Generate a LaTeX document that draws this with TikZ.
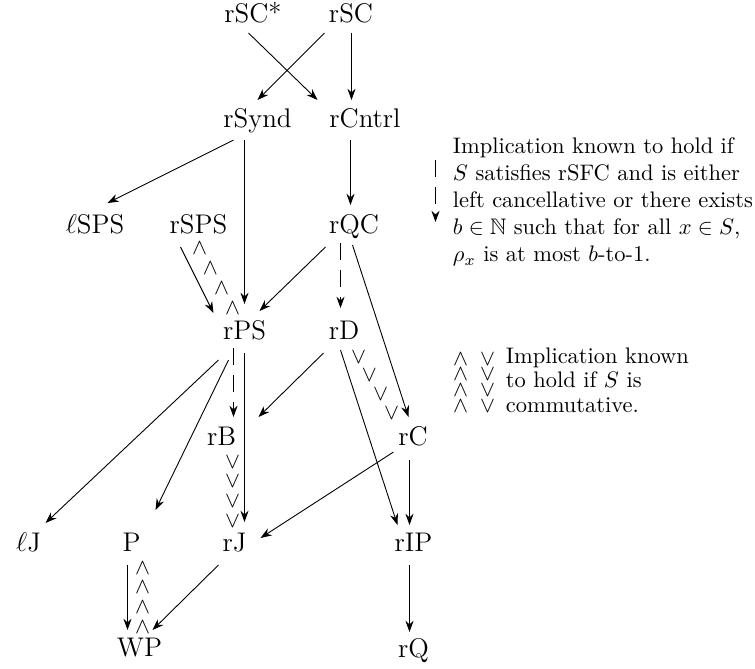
\documentclass[tikz,border=0pt]{standalone}
\usepackage{amssymb}
\usetikzlibrary{arrows.meta}
\begin{document}
\begin{tikzpicture}[x=0.445pt,y=-0.445pt,
  nd/.style={font=\large, anchor=base, inner sep=0pt},
  imp/.style={-{Stealth[length=5pt,width=3.6pt]}, line width=0.4pt},
  cond/.style={imp, dash pattern=on 7.5pt off 4.5pt},
  sym/.style={inner sep=0pt, font=\normalsize},
  legtext/.style={anchor=north west, inner sep=0pt, align=left, font=\normalsize}]
\useasboundingbox (-0.5,0) rectangle (754.5,669);
% nodes
\node[nd] (rSCs)  at (252.5,22) {rSC*};
\node[nd] (rSC)   at (350.5,22) {rSC};
\node[nd] (rSynd) at (257,127) {rSynd};
\node[nd] (rCntrl) at (364.5,127) {rCntrl};
\node[nd] (lSPS)  at (94.5,233) {$\ell$SPS};
\node[nd] (rSPS)  at (198,233) {rSPS};
\node[nd] (rQC)   at (353.5,233) {rQC};
\node[nd] (rPS)   at (244,339) {rPS};
\node[nd] (rD)    at (343.5,339) {rD};
\node[nd] (rB)    at (221,445) {rB};
\node[nd] (rC)    at (412.5,445) {rC};
\node[nd] (lJ)    at (28,551) {$\ell$J};
\node[nd] (P)     at (131,551) {P};
\node[nd] (rJ)    at (234,551) {rJ};
\node[nd] (rIP)   at (413,551) {rIP};
\node[nd] (WP)    at (139,656) {WP};
\node[nd] (rQ)    at (413,657) {rQ};
% implications
\draw[imp] ([shift={(-4.5,11)}]rSCs.base) -- ([shift={(-47.5,-27)}]rCntrl.base);
\draw[imp] ([shift={(-26.5,11)}]rSC.base) -- ([shift={(0,-27)}]rSynd.base);
\draw[imp] ([shift={(0.5,11)}]rSC.base) -- ([shift={(-13.5,-27)}]rCntrl.base);
\draw[imp] ([shift={(-24,13)}]rSynd.base) -- ([shift={(12.5,-30)}]lSPS.base);
\draw[imp] ([shift={(-13,13)}]rSynd.base) -- ([shift={(0,-35)}]rPS.base);
\draw[imp] ([shift={(-14.5,13)}]rCntrl.base) -- ([shift={(-3.5,-28)}]rQC.base);
\draw[imp] ([shift={(-18,14)}]rSPS.base) -- ([shift={(-31,-26)}]rPS.base);
\draw[imp] ([shift={(-28.5,14)}]rQC.base) -- ([shift={(15,-28)}]rPS.base);
\draw[cond] ([shift={(-13.5,10)}]rQC.base) -- ([shift={(-3.5,-31)}]rD.base);
\draw[imp] ([shift={(-1.5,12)}]rQC.base) -- ([shift={(-4.5,-28)}]rC.base);
\draw[imp] ([shift={(-20.5,14)}]rD.base) -- ([shift={(37,-28)}]rB.base);
\draw[imp] ([shift={(-3.5,11)}]rD.base) -- ([shift={(-16,-26)}]rIP.base);
\draw[cond] ([shift={(-11,9)}]rPS.base) -- ([shift={(12,-28)}]rB.base);
\draw[imp] ([shift={(0,14)}]rPS.base) -- ([shift={(10,-29)}]rJ.base);
\draw[imp] ([shift={(-26,21)}]rPS.base) -- ([shift={(17,-28)}]lJ.base);
\draw[imp] ([shift={(-16,21)}]rPS.base) -- ([shift={(24,-41)}]P.base);
\draw[imp] ([shift={(-19.5,7)}]rC.base) -- ([shift={(26,-13)}]rJ.base);
\draw[imp] ([shift={(-3.5,15)}]rC.base) -- ([shift={(-4,-26)}]rIP.base);
\draw[imp] ([shift={(-4,14)}]rIP.base) -- ([shift={(-4,-25)}]rQ.base);
\draw[imp] ([shift={(-4,14)}]P.base) -- ([shift={(-12,-26)}]WP.base);
\draw[imp] ([shift={(-16,14)}]rJ.base) -- ([shift={(13,-26)}]WP.base);
% commutative implications
\path ([shift={(-12,-31)}]rPS.base) -- ([shift={(1,15)}]rSPS.base)
  node[sym,pos=0] (ca1) {$\wedge$} node[sym,pos=0.333] (ca2) {$\wedge$}
  node[sym,pos=0.667] (ca3) {$\wedge$} node[sym,pos=1] (ca4) {$\wedge$};
\path ([shift={(14.5,18)}]rD.base) -- ([shift={(-21.5,-32)}]rC.base)
  node[sym,pos=0] (cb1) {$\vee$} node[sym,pos=0.333] (cb2) {$\vee$}
  node[sym,pos=0.667] (cb3) {$\vee$} node[sym,pos=1] (cb4) {$\vee$};
\path ([shift={(11,17)}]rB.base) -- ([shift={(-2,-30)}]rJ.base)
  node[sym,pos=0] (cc1) {$\vee$} node[sym,pos=0.333] (cc2) {$\vee$}
  node[sym,pos=0.667] (cc3) {$\vee$} node[sym,pos=1] (cc4) {$\vee$};
\path ([shift={(3,-29)}]WP.base) -- ([shift={(11,17)}]P.base)
  node[sym,pos=0] (cd1) {$\wedge$} node[sym,pos=0.333] (cd2) {$\wedge$}
  node[sym,pos=0.667] (cd3) {$\wedge$} node[sym,pos=1] (cd4) {$\wedge$};
% legend 1
\coordinate (la) at (435,160);
\coordinate (lb) at (435,222);
\draw[cond] (la) -- (lb);
\node[legtext] (leg1) at (452,137.5) {Implication known to hold if\\ $S$ satisfies rSFC and is either\\ left cancellative or there exists\\ $b\in\mathbb{N}$ such that for all $x\in S$,\\ $\rho_x$ is at most $b$-to-1.};
% legend 2
\foreach \yy [count=\i] in {359,374.5,390,406}{
  \node[sym] (lw\i) at (460,\yy) {$\wedge$};
  \node[sym] (lv\i) at (487,\yy) {$\vee$};
}
\node[legtext] (leg2) at (505,347) {Implication known\\[-1pt] to hold if $S$ is\\[-1pt] commutative.};
\end{tikzpicture}
\end{document}
